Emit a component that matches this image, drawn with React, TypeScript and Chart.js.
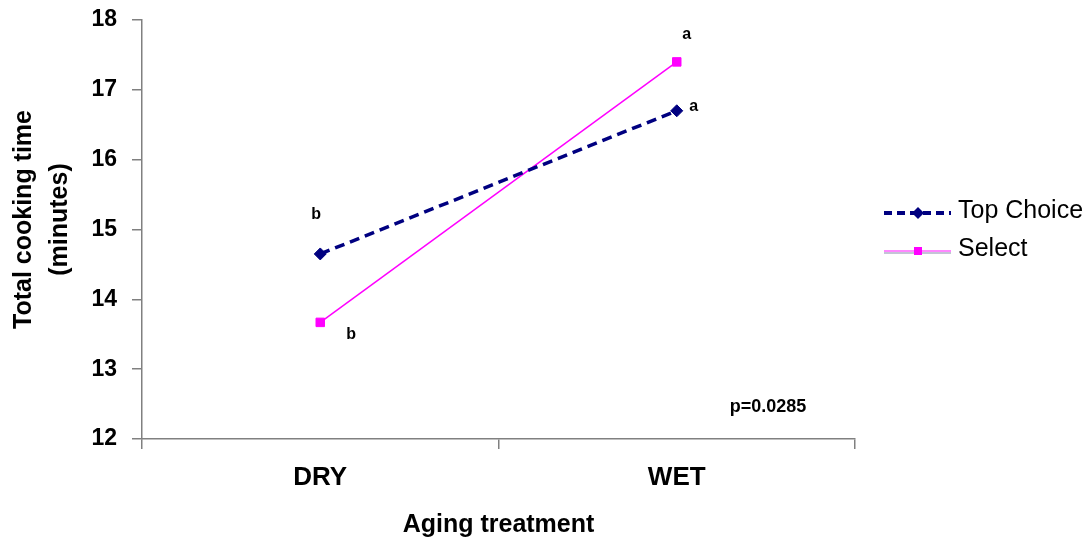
import React, { useEffect, useRef } from 'react';
import { Chart, registerables } from 'chart.js';

Chart.register(...registerables);

const categories = ['DRY', 'WET'];
const topChoice = [14.65, 16.7];
const select = [13.67, 17.4];
const topChoiceLetters = ['b', 'a'];
const selectLetters = ['b', 'a'];
const yMin = 12;
const yMax = 18;
const seriesNames = ['Top Choice', 'Select'];
const pValueText = 'p=0.0285';
const yTitleLines = ['Total cooking time', '(minutes)'];
const xTitle = 'Aging treatment';

const FONT = "'Liberation Sans', Arial, Helvetica, sans-serif";
const NAVY = '#000080';
const MAGENTA = '#FF00FF';
const AXIS = '#808080';

const overlayPlugin = {
  id: 'overlay',
  afterDraw(chart: any) {
    const ctx = chart.ctx as CanvasRenderingContext2D;
    const xs = chart.scales.x;
    const ys = chart.scales.y;
    const area = chart.chartArea;
    ctx.save();

    // Significance letters next to the points
    ctx.fillStyle = '#000';
    ctx.font = `bold 16px ${FONT}`;
    ctx.textAlign = 'center';
    ctx.textBaseline = 'middle';
    const tcOffsets = [
      [-4, -39],
      [17, -4],
    ];
    const slOffsets = [
      [31, 12],
      [10, -27],
    ];
    topChoice.forEach((v, i) => {
      ctx.fillText(topChoiceLetters[i], xs.getPixelForValue(i) + tcOffsets[i][0], ys.getPixelForValue(v) + tcOffsets[i][1]);
    });
    select.forEach((v, i) => {
      ctx.fillText(selectLetters[i], xs.getPixelForValue(i) + slOffsets[i][0], ys.getPixelForValue(v) + slOffsets[i][1]);
    });

    // p-value
    ctx.font = `bold 18px ${FONT}`;
    ctx.fillText(pValueText, area.right - 87, area.bottom - 32);

    // Y axis title (two lines, rotated)
    const cy = (area.top + area.bottom) / 2 - 10;
    ctx.font = `bold 25px ${FONT}`;
    ctx.textAlign = 'center';
    ctx.textBaseline = 'middle';
    const lineX = [24, 60];
    yTitleLines.forEach((t, i) => {
      ctx.save();
      ctx.translate(lineX[i], cy);
      ctx.rotate(-Math.PI / 2);
      ctx.fillText(t, 0, 0);
      ctx.restore();
    });

    // Legend
    const lx0 = 884;
    const lx1 = 951;
    const mx = 918;
    const tx = 958;
    const rows = [213, 251];
    // Top Choice
    ctx.strokeStyle = NAVY;
    ctx.lineWidth = 4;
    ctx.setLineDash([8, 5]);
    ctx.beginPath();
    ctx.moveTo(lx0, rows[0]);
    ctx.lineTo(lx1, rows[0]);
    ctx.stroke();
    ctx.setLineDash([]);
    ctx.fillStyle = NAVY;
    ctx.beginPath();
    ctx.moveTo(mx, rows[0] - 6);
    ctx.lineTo(mx + 6, rows[0]);
    ctx.lineTo(mx, rows[0] + 6);
    ctx.lineTo(mx - 6, rows[0]);
    ctx.closePath();
    ctx.fill();
    // Select
    ctx.strokeStyle = '#b0b0c8';
    ctx.lineWidth = 1.5;
    ctx.beginPath();
    ctx.moveTo(lx0, rows[1] + 2);
    ctx.lineTo(lx1, rows[1] + 2);
    ctx.stroke();
    ctx.strokeStyle = '#ff88ff';
    ctx.lineWidth = 2;
    ctx.beginPath();
    ctx.moveTo(lx0, rows[1]);
    ctx.lineTo(lx1, rows[1]);
    ctx.stroke();
    ctx.fillStyle = MAGENTA;
    ctx.fillRect(mx - 4, rows[1] - 4, 8, 8);

    ctx.fillStyle = '#000';
    ctx.font = `25px ${FONT}`;
    ctx.textAlign = 'left';
    ctx.textBaseline = 'middle';
    ctx.fillText(seriesNames[0], tx, rows[0] - 2);
    ctx.fillText(seriesNames[1], tx, rows[1] - 2);

    ctx.restore();
  },
};

export default function App() {
  const ref = useRef<HTMLCanvasElement | null>(null);

  useEffect(() => {
    if (!ref.current) return;
    const chart = new Chart(ref.current, {
      type: 'line',
      data: {
        labels: categories,
        datasets: [
          {
            label: seriesNames[0],
            data: topChoice,
            borderColor: NAVY,
            backgroundColor: NAVY,
            borderWidth: 3.5,
            borderDash: [10, 6],
            pointStyle: 'rectRot',
            pointRadius: 6,
            pointBackgroundColor: NAVY,
            pointBorderColor: NAVY,
            pointBorderWidth: 1,
            tension: 0,
            fill: false,
          },
          {
            label: seriesNames[1],
            data: select,
            borderColor: MAGENTA,
            backgroundColor: MAGENTA,
            borderWidth: 1.5,
            pointStyle: 'rect',
            pointRadius: 6,
            pointBackgroundColor: MAGENTA,
            pointBorderColor: MAGENTA,
            pointBorderWidth: 1,
            tension: 0,
            fill: false,
          },
        ],
      },
      options: {
        animation: false,
        responsive: true,
        maintainAspectRatio: false,
        layout: { padding: { top: 20, right: 237, left: 0, bottom: 0 } },
        plugins: {
          legend: { display: false },
          tooltip: { enabled: false },
          title: { display: false },
        },
        scales: {
          x: {
            type: 'category',
            offset: true,
            grid: {
              offset: true,
              drawOnChartArea: false,
              tickLength: 10,
              color: AXIS,
              lineWidth: 1.5,
            },
            border: { color: AXIS, width: 1.5 },
            ticks: {
              color: '#000',
              font: { family: FONT, size: 26, weight: 'bold' },
              padding: 13,
            },
            title: {
              display: true,
              text: xTitle,
              color: '#000',
              font: { family: FONT, size: 25, weight: 'bold' },
              padding: { top: 0, bottom: 6 },
            },
            afterFit: (scale: any) => {
              scale.height = 107;
            },
          },
          y: {
            min: yMin,
            max: yMax,
            grid: {
              drawOnChartArea: false,
              tickLength: 10,
              color: AXIS,
              lineWidth: 1.5,
            },
            border: { color: AXIS, width: 1.5 },
            ticks: {
              stepSize: 1,
              color: '#000',
              font: { family: FONT, size: 23, weight: 'bold', lineHeight: 0.8 },
              padding: 15,
            },
            afterFit: (scale: any) => {
              scale.width = 142;
              scale.paddingTop = 0;
              scale.paddingBottom = 0;
            },
          },
        },
      },
      plugins: [overlayPlugin],
    } as any);
    return () => chart.destroy();
  }, []);

  return (
    <div style={{ position: 'absolute', left: 0, top: 0, width: 1092, height: 546, background: '#fff' }}>
      <canvas ref={ref} style={{ display: 'block' }} />
    </div>
  );
}
